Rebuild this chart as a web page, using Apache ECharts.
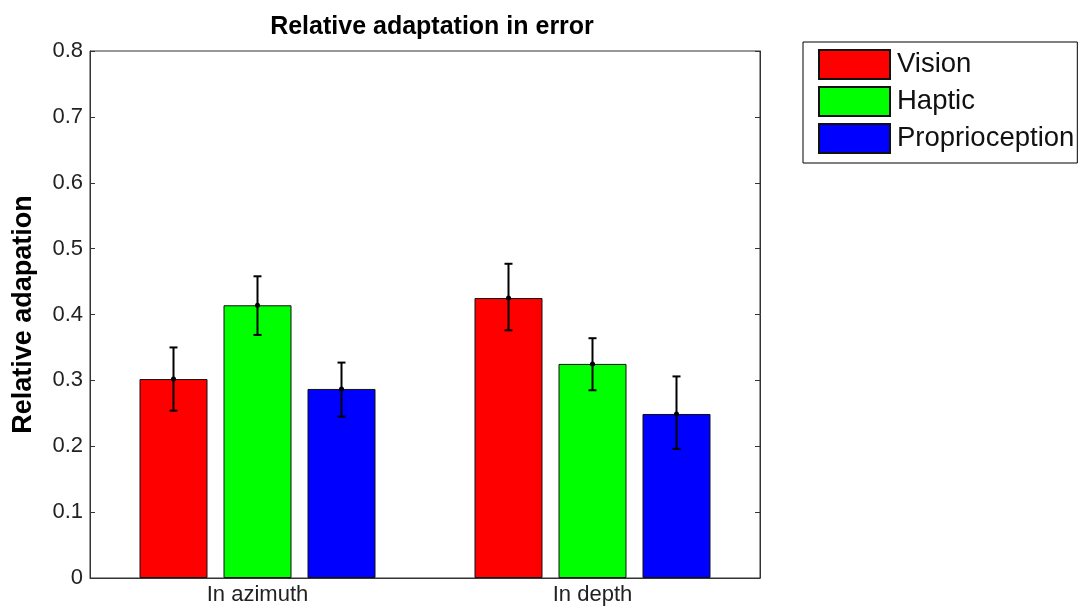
<!DOCTYPE html>
<html>
<head>
<meta charset="utf-8">
<script src="https://cdn.jsdelivr.net/npm/echarts@6/dist/echarts.min.js"></script>
<style>
html,body{margin:0;padding:0;background:#fff;}
#chart{width:1082px;height:612px;}
</style>
</head>
<body>
<div id="chart"></div>
<script>
var categories = ['In azimuth', 'In depth'];
var seriesNames = ['Vision', 'Haptic', 'Proprioception'];
var seriesColors = ['#ff0000', '#00ff00', '#0000ff'];
var visionValues = [0.302, 0.425];
var hapticValues = [0.414, 0.325];
var proprioValues = [0.287, 0.249];
var visionErr = [[0.254, 0.350], [0.376, 0.477]];
var hapticErr = [[0.369, 0.458], [0.285, 0.364]];
var proprioErr = [[0.245, 0.327], [0.196, 0.306]];
var yTicks = [0, 0.1, 0.2, 0.3, 0.4, 0.5, 0.6, 0.7, 0.8];

var values = [visionValues, hapticValues, proprioValues];
var errs = [visionErr, hapticErr, proprioErr];
var BAR_W = 68, GAP = 16;
var FONT = '"Liberation Sans", Arial, Helvetica, sans-serif';

var chart = echarts.init(document.getElementById('chart'), null, {renderer: 'canvas'});

var series = [];
seriesNames.forEach(function (name, i) {
  series.push({
    name: name,
    type: 'bar',
    data: values[i],
    barWidth: BAR_W,
    barGap: (GAP / BAR_W * 100) + '%',
    itemStyle: {color: seriesColors[i], borderColor: '#111', borderWidth: 1},
    emphasis: {disabled: true},
    animation: false
  });
});
seriesNames.forEach(function (name, i) {
  var offset = (i - 1) * (BAR_W + GAP);
  series.push({
    type: 'custom',
    name: name + ' err',
    z: 10,
    animation: false,
    data: errs[i].map(function (e, k) { return [k, e[0], e[1], values[i][k]]; }),
    renderItem: function (params, api) {
      var lo = api.coord([api.value(0), api.value(1)]);
      var hi = api.coord([api.value(0), api.value(2)]);
      var mid = api.coord([api.value(0), api.value(3)]);
      var x = lo[0] + offset;
      var cap = 4;
      var st = {stroke: '#000', lineWidth: 2};
      return {
        type: 'group',
        children: [
          {type: 'line', shape: {x1: x, y1: lo[1], x2: x, y2: hi[1]}, style: st},
          {type: 'line', shape: {x1: x - cap, y1: lo[1], x2: x + cap, y2: lo[1]}, style: st},
          {type: 'line', shape: {x1: x - cap, y1: hi[1], x2: x + cap, y2: hi[1]}, style: st},
          {type: 'circle', shape: {cx: x, cy: mid[1], r: 2.5}, style: {fill: '#000'}}
        ]
      };
    }
  });
});

var tickFmt = function (v) {
  var t = yTicks.filter(function (y) { return Math.abs(y - v) < 1e-9; });
  return t.length ? String(t[0]) : '';
};

var option = {
  backgroundColor: '#fff',
  animation: false,
  title: {
    text: 'Relative adaptation in error',
    left: 427, top: 10, textAlign: 'center',
    textStyle: {fontFamily: FONT, fontSize: 25, fontWeight: 'bold', color: '#000'}
  },
  legend: {
    data: seriesNames,
    orient: 'vertical',
    left: 803, top: 42,
    itemWidth: 71, itemHeight: 29, itemGap: 6,
    padding: [7, 3, 9, 15],
    borderColor: '#000', borderWidth: 1,
    backgroundColor: '#fff',
    icon: 'rect',
    selectedMode: false,
    textStyle: {fontFamily: FONT, fontSize: 27.5, color: '#111', padding: [3, 0, 0, 2]}
  },
  grid: {left: 90, top: 51, right: 322, bottom: 34, show: true, borderColor: '#333', borderWidth: 1, backgroundColor: 'transparent'},
  xAxis: {
    type: 'category',
    data: categories,
    axisLine: {lineStyle: {color: '#333', width: 1}},
    axisTick: {show: false},
    axisLabel: {fontFamily: FONT, fontSize: 22, color: '#222', margin: 6}
  },
  yAxis: [{
    type: 'value',
    min: 0, max: 0.8, interval: 0.1,
    name: 'Relative adapation',
    nameLocation: 'middle',
    nameGap: 53,
    nameTextStyle: {fontFamily: FONT, fontSize: 27, fontWeight: 'bold', color: '#000'},
    axisLine: {show: true, lineStyle: {color: '#333', width: 1}},
    axisTick: {show: true, inside: true, length: 5, lineStyle: {color: '#333'}},
    splitLine: {show: false},
    axisLabel: {fontFamily: FONT, fontSize: 22, color: '#222', margin: 7, formatter: tickFmt}
  }, {
    type: 'value',
    position: 'right',
    min: 0, max: 0.8, interval: 0.1,
    axisLine: {show: true, lineStyle: {color: '#333', width: 1}},
    axisTick: {show: true, inside: true, length: 5, lineStyle: {color: '#333'}},
    splitLine: {show: false},
    axisLabel: {show: false}
  }],
  series: series
};
chart.setOption(option);
</script>
</body>
</html>
